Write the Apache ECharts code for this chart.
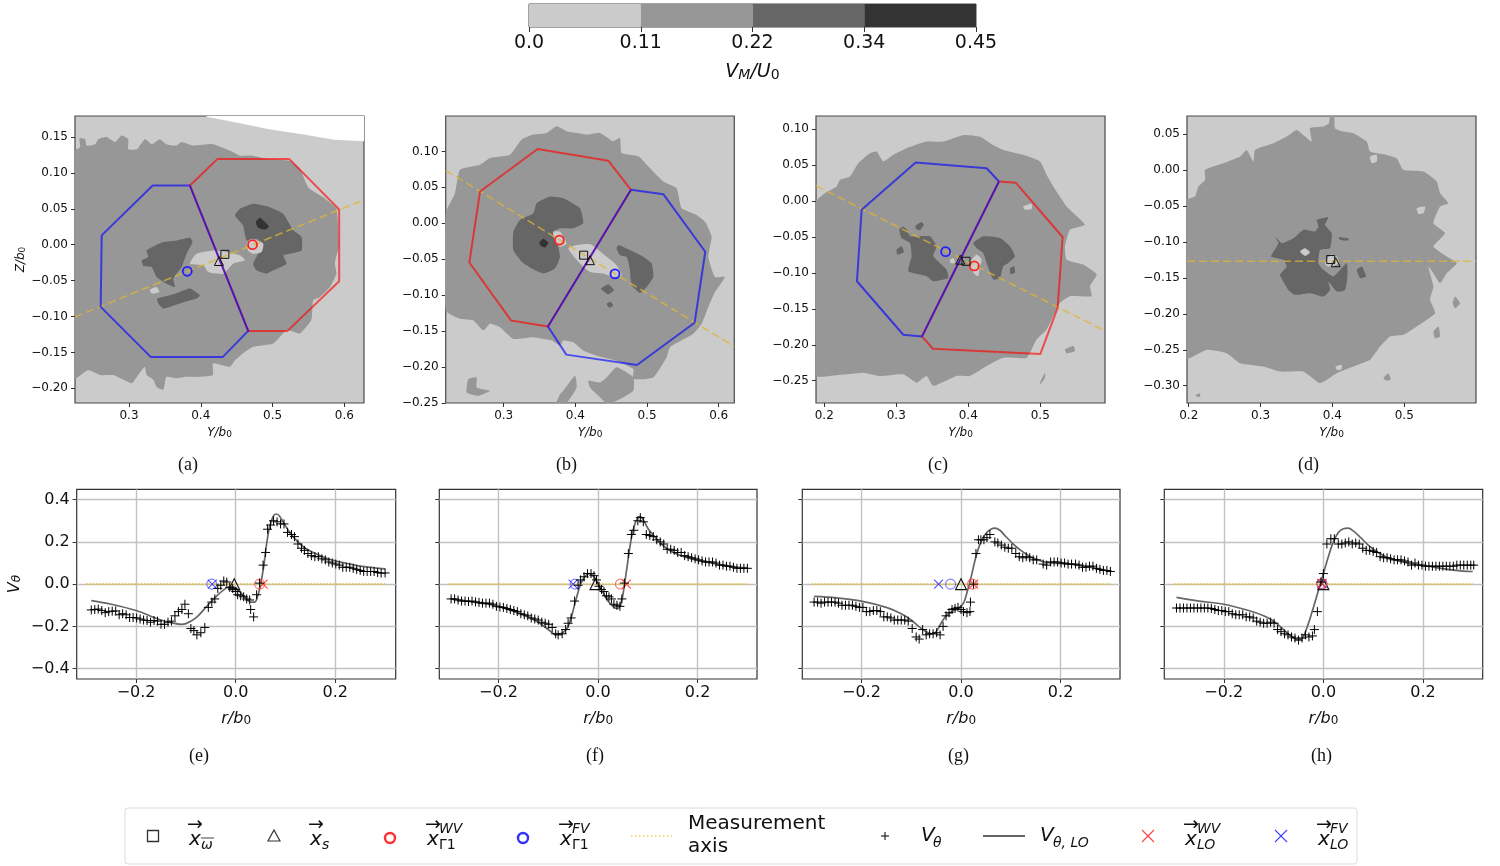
<!DOCTYPE html>
<html><head><meta charset="utf-8">
<style>html,body{margin:0;padding:0;background:#fff}#c{width:1500px;height:866px}</style>
<script src="https://cdn.jsdelivr.net/npm/echarts@6/dist/echarts.min.js"></script>
</head><body><div id="c"></div>
<script>
// ---------- colour-bar ----------
const barEdges=[0,0.1125,0.225,0.3375,0.45];
const barLabels=['0.0','0.11','0.22','0.34','0.45'];
const barColors=['#cbcbcb','#979797','#666666','#333333'];
// ---------- panel (a) ----------
const aWhite=[[.408,.1792],[.408,.178],[.446,.171],[.493,.161],[.539,.154],[.586,.146],[.6274,.144],[.6274,.1792]];
const aMid=[[[.2248,.131],[.232,.1357],[.2309,.148],[.2388,.147],[.241,.138],[.2527,.14],[.2573,.147],[.2689,.15],[.2805,.143],[.2898,.152],[.299,.147],[.299,.133],[.311,.133],[.322,.147],[.3316,.14],[.343,.147],[.352,.14],[.366,.138],[.373,.143],[.3896,.138],[.417,.14],[.4406,.131],[.4545,.124],[.473,.124],[.4916,.1195],[.524,.117],[.538,.1056],[.5496,.08],[.5705,.066],[.589,.05],[.592,-.003],[.5868,-.026],[.589,-.04],[.58,-.059],[.566,-.073],[.5566,-.077],[.554,-.105],[.538,-.1236],[.5195,-.119],[.501,-.1375],[.473,-.142],[.459,-.151],[.4476,-.161],[.4406,-.17],[.417,-.165],[.417,-.1815],[.399,-.184],[.38,-.184],[.366,-.186],[.352,-.184],[.348,-.202],[.3385,-.198],[.334,-.188],[.3246,-.1815],[.322,-.17],[.311,-.184],[.304,-.193],[.278,-.1815],[.26,-.1815],[.243,-.1745],[.2248,-.186]]];
const aDark=[[[.4476,.0407],[.4545,.05],[.473,.057],[.4963,.0523],[.5148,.043],[.5288,.02],[.5404,.0106],[.5404,-.0079],[.524,-.0125],[.5148,-.0148],[.5195,-.0264],[.501,-.0357],[.4916,-.0403],[.4777,-.0357],[.473,-.0264],[.4824,-.0079],[.487,.0014],[.4777,.0083],[.4638,.006],[.459,.0269]],
[[.3246,-.0079],[.3478,.0037],[.3664,.006],[.385,.0097],[.3886,.0037],[.3803,-.0125],[.3733,-.031],[.3617,-.0472],[.364,-.0588],[.3524,-.0542],[.3385,-.0449],[.3316,-.031],[.32,-.0296],[.3176,-.0218],[.3269,-.0171]],
[[.3394,-.075],[.3571,-.0704],[.371,-.0657],[.3849,-.0611],[.3988,-.0704],[.3942,-.075],[.378,-.0796],[.364,-.0843],[.3478,-.0889],[.3408,-.082]]];
const aDarkest=[[[.4768,.0315],[.4824,.0375],[.4893,.0315],[.495,.0255],[.4893,.021],[.48,.0236]]];
const aLight=[[[.385,-.0264],[.3942,-.0125],[.4174,-.0079],[.436,-.0102],[.4545,-.0148],[.4615,-.0218],[.4453,-.0264],[.4313,-.0403],[.4104,-.038],[.4035,-.0287]],
[[.4638,.0014],[.4708,.0083],[.487,.0014],[.4847,-.0102],[.473,-.0125],[.466,-.0079]],
[[.3292,-.0625],[.3385,-.0588],[.3422,-.0657],[.3316,-.068]]];
const aRed=[[.3849,.0824],[.4234,.1195],[.5232,.1195],[.5928,.0491],[.5928,-.0509],[.5209,-.12],[.4661,-.12],[.3849,.0824]];
const aBlue=[[.3849,.0824],[.333,.0824],[.262,.013],[.2606,-.0866],[.3306,-.1565],[.4304,-.1565],[.4661,-.12],[.3849,.0824]];
const aAxis=[[.2248,-.1005],[.6274,.0625]];
const aMarks={red:[.4721,0],blue:[.3812,-.037],square:[.4336,-.0134],tri:[.4253,-.0227]};
// ---------- panel (b) ----------
const bMid=[[[.2191,.014],[.2321,.0419],[.2391,.0746],[.267,.0816],[.2809,.0909],[.3088,.0955],[.3251,.1165],[.3414,.1235],[.36,.1258],[.3739,.1351],[.3879,.1282],[.4018,.1258],[.4181,.1235],[.4344,.1258],[.453,.1142],[.4623,.1188],[.4646,.0979],[.4879,.0932],[.4995,.0816],[.5227,.0583],[.5413,.0489],[.5483,.021],[.5692,.0117],[.5809,.0023],[.5902,-.0186],[.5855,-.0466],[.5948,-.0746],[.6088,-.0746],[.5948,-.0955],[.5855,-.1165],[.5762,-.1398],[.5646,-.1538],[.532,-.1724],[.5274,-.1864],[.5088,-.2144],[.4809,-.2167],[.4809,-.2027],[.4576,-.1911],[.4297,-.1841],[.4111,-.1771],[.3972,-.1654],[.3832,-.1631],[.3786,-.1701],[.367,-.1631],[.3414,-.1584],[.3135,-.1608],[.2949,-.1445],[.2809,-.1398],[.2716,-.1491],[.2577,-.1351],[.2391,-.1328],[.2191,-.1212]],
[[.4181,-.219],[.4344,-.2214],[.4437,-.2144],[.4576,-.2004],[.4809,-.2144],[.4809,-.233],[.4576,-.247],[.4437,-.25],[.43,-.2377],[.4204,-.2283]],
[[.3832,-.233],[.3995,-.212],[.4018,-.2283],[.3879,-.2493],[.3739,-.2493],[.3786,-.2377]],
[[.2507,-.2167],[.2623,-.2144],[.2623,-.2283],[.2809,-.233],[.2646,-.24],[.2484,-.2353]]];
const bDark=[[[.3135,-.0117],[.3228,.0047],[.3414,.014],[.346,.028],[.3646,.0373],[.3832,.035],[.4065,.021],[.4111,0],[.3972,-.007],[.3786,-.007],[.3693,-.0117],[.3739,-.0233],[.3786,-.0466],[.3716,-.0629],[.3553,-.0699],[.3391,-.0629],[.3251,-.0536],[.3135,-.0373]],
[[.4576,-.035],[.46,-.0303],[.4762,-.0373],[.4948,-.0466],[.5065,-.0559],[.5088,-.0746],[.4995,-.0885],[.4902,-.0969],[.4785,-.0862],[.4762,-.0652],[.4716,-.0466],[.4623,-.0443]],
[[.4358,-.0909],[.446,-.0848],[.4539,-.0932],[.446,-.0988]],
[[.4437,-.1118],[.4493,-.109],[.453,-.1142],[.4474,-.1174]]];
const bDarkest=[[[.3498,-.027],[.3553,-.0214],[.3623,-.027],[.3577,-.0336],[.3516,-.0312]]];
const bLight=[[[.3902,-.035],[.4018,-.0303],[.4204,-.0289],[.4297,-.035],[.4437,-.0466],[.4576,-.0582],[.4646,-.0722],[.453,-.0746],[.439,-.0699],[.4204,-.0676],[.4065,-.0559]],
[[.3693,-.0117],[.3786,-.0117],[.3879,-.028],[.3786,-.0326],[.3716,-.0256]]];
const bRed=[[.4776,.0466],[.446,.0871],[.3474,.1034],[.267,.0443],[.2521,-.0545],[.3102,-.1351],[.3618,-.1435],[.4776,.0466]];
const bBlue=[[.4776,.0466],[.5227,.0405],[.5813,-.0396],[.5664,-.1384],[.486,-.1971],[.3874,-.1827],[.3618,-.1435],[.4776,.0466]];
const bAxis=[[.2191,.0736],[.6218,-.1715]];
const bMarks={red:[.3777,-.0233],blue:[.4553,-.0704],square:[.4116,-.0443],tri:[.4204,-.0513]};
// ---------- panel (c) ----------
const cMid=[[[.1885,-.0005],[.2009,.0111],[.2171,.0204],[.2218,.0296],[.2357,.0343],[.2472,.0528],[.2634,.0667],[.2727,.069],[.282,.0551],[.2958,.0644],[.3144,.0736],[.3421,.0829],[.3653,.0829],[.3931,.0921],[.4162,.0898],[.4301,.0806],[.4486,.0713],[.4764,.0644],[.4996,.0551],[.5088,.0366],[.5181,.0204],[.5366,-.0074],[.5621,-.0329],[.5412,-.0398],[.5343,-.063],[.5366,-.0815],[.5598,-.0884],[.5783,-.1023],[.569,-.1185],[.5713,-.1324],[.5412,-.1324],[.5273,-.1417],[.5204,-.1556],[.5088,-.1787],[.4949,-.1926],[.481,-.2181],[.4486,-.2181],[.4255,-.2296],[.4023,-.2435],[.3838,-.2435],[.3514,-.2574],[.3421,-.2435],[.3283,-.2528],[.3097,-.2412],[.2773,-.2435],[.2542,-.2389],[.231,-.2412],[.2079,-.2435],[.1885,-.2435]],
[[.5343,-.2065],[.5459,-.2019],[.5482,-.2088],[.5366,-.2121]],
[[.4996,-.2528],[.5065,-.2389],[.5065,-.2458],[.5,-.2551]]];
const cDark=[[[.3042,-.0398],[.3097,-.0352],[.3167,-.0421],[.319,-.0491],[.3468,-.0491],[.356,-.063],[.3514,-.0769],[.3699,-.0954],[.3722,-.107],[.3514,-.1116],[.3421,-.1046],[.3167,-.0977],[.3213,-.0769],[.319,-.0583],[.3074,-.0514]],
[[.3269,-.0343],[.3352,-.0292],[.3384,-.0329],[.3329,-.0407],[.3273,-.0389]],
[[.3005,-.0676],[.3074,-.063],[.3106,-.0713],[.3014,-.0745]],
[[.407,-.0583],[.4208,-.0491],[.444,-.0514],[.4579,-.063],[.4648,-.0769],[.4556,-.0861],[.4486,-.0907],[.444,-.107],[.4347,-.1093],[.4255,-.0861],[.4208,-.0722],[.4116,-.0653]],
[[.4579,-.0935],[.4639,-.0907],[.4648,-.0995],[.4588,-.1018]]];
const cLight=[[[.3745,-.0815],[.3792,-.0792],[.3815,-.0861],[.3755,-.0861]],
[[.4023,-.0861],[.4116,-.0745],[.4185,-.0815],[.4162,-.0907],[.4139,-.1046],[.4093,-.1023],[.4047,-.0954]],
[[.4764,-.0074],[.488,-.0037],[.488,-.0111],[.4787,-.012]]];
const cBlue=[[.4426,.0273],[.4255,.0458],[.3269,.0537],[.2519,-.012],[.2454,-.1116],[.3097,-.1861],[.3357,-.1884],[.4426,.0273]];
const cRed=[[.4426,.0273],[.4662,.0255],[.531,-.05],[.5241,-.1486],[.5,-.213],[.3509,-.2056],[.3357,-.1884],[.4426,.0273]];
const cAxis=[[.1885,.0213],[.5899,-.1806]];
const cMarks={red:[.4084,-.0903],blue:[.3685,-.0704],square:[.3968,-.0838],tri:[.3889,-.0815]};
// ---------- panel (d) ----------
const dMid=[[[.1976,-.0413],[.2088,-.0367],[.2135,-.0227],[.2227,-.0135],[.2227,.0005],[.2483,.0097],[.2715,.019],[.2807,.0283],[.29,.0121],[.2923,.0283],[.3179,.0376],[.3364,.0469],[.3503,.0561],[.3619,.0469],[.3712,.0399],[.3689,.0585],[.3875,.0608],[.3953,.0654],[.3967,.0755],[.4023,.0755],[.4037,.0585],[.4153,.0538],[.4292,.0515],[.4478,.0399],[.4524,.026],[.4756,.0213],[.4895,.0167],[.4988,.0005],[.5267,-.0019],[.5452,-.0158],[.5499,-.032],[.5615,-.0459],[.5499,-.0506],[.5406,-.0738],[.5568,-.0877],[.5406,-.1063],[.5591,-.1202],[.5731,-.1295],[.5591,-.1434],[.5499,-.1573],[.5406,-.1434],[.5336,-.1341],[.5406,-.1619],[.5359,-.1805],[.5429,-.1991],[.5174,-.2176],[.4988,-.2292],[.4803,-.2315],[.4663,-.2455],[.4524,-.264],[.4292,-.2733],[.406,-.2826],[.3828,-.2965],[.3596,-.2803],[.3271,-.2803],[.3039,-.2733],[.2715,-.2687],[.2529,-.2547],[.2251,-.2501],[.1976,-.2617]],
[[.5707,-.1759],[.5777,-.1851],[.5707,-.1921],[.5675,-.1851]],
[[.5406,-.2246],[.5476,-.2176],[.5499,-.2315],[.5429,-.2339]],
[[.471,-.2895],[.4779,-.2826],[.4812,-.2918],[.4747,-.2928]],
[[.2102,-.3127],[.2158,-.3104],[.2158,-.3151],[.2102,-.3151]]];
const dDark=[[[.3146,-.1202],[.3248,-.1016],[.3202,-.0923],[.3295,-.1016],[.3457,-.0947],[.3596,-.0831],[.3759,-.0854],[.3805,-.0784],[.3782,-.0691],[.3944,-.0654],[.3898,-.0761],[.3991,-.0877],[.3967,-.1086],[.3828,-.1109],[.3805,-.1295],[.3875,-.1387],[.4014,-.148],[.4199,-.1295],[.4209,-.148],[.4176,-.1666],[.406,-.1689],[.3944,-.155],[.3967,-.1666],[.3875,-.1759],[.3689,-.1712],[.348,-.1735],[.3387,-.1666],[.3271,-.1457],[.3364,-.1341],[.3318,-.1248]],
[[.4339,-.1387],[.4409,-.1341],[.4469,-.148],[.4385,-.1503]],
[[.4083,-.0933],[.4223,-.0947],[.4223,-.0979],[.4107,-.097]]];
const dLight=[[[.355,-.1132],[.3619,-.1086],[.3689,-.1146],[.3619,-.1192]],
[[.3898,-.1295],[.3968,-.1179],[.406,-.1202],[.4083,-.1295],[.3991,-.1341],[.3921,-.1332]],
[[.4524,.019],[.4617,.0213],[.4617,.0121],[.4547,.0097]],
[[.5174,-.0529],[.529,-.0506],[.5267,-.0599],[.5197,-.0608]],
[[.2459,-.2733],[.2575,-.271],[.2585,-.277],[.2473,-.2779]],
[[.4046,-.2733],[.413,-.271],[.413,-.277],[.406,-.2779]]];
const dAxis=[[.1976,-.1267],[.5999,-.1267]];
const dMarks={square:[.3977,-.1244],tri:[.4046,-.1281]};
// ---------- lower panels: V_theta measured ----------
const ePlus=[[-.29,-.122],[-.283,-.12],[-.276,-.118],[-.269,-.125],[-.262,-.135],[-.255,-.13],[-.248,-.128],[-.241,-.127],[-.234,-.145],[-.227,-.14],[-.22,-.145],[-.213,-.158],[-.206,-.158],[-.199,-.16],[-.192,-.165],[-.185,-.17],[-.178,-.172],[-.171,-.18],[-.164,-.172],[-.157,-.175],[-.15,-.19],[-.143,-.19],[-.136,-.18],[-.129,-.175],[-.122,-.15],[-.115,-.13],[-.108,-.12],[-.102,-.095],[-.095,-.14],[-.09,-.21],[-.084,-.22],[-.078,-.24],[-.07,-.23],[-.062,-.205],[-.055,-.11],[-.048,-.085],[-.042,-.07],[-.036,-.02],[-.03,-.005],[-.024,.015],[-.018,.01],[-.012,-.015],[-.006,-.02],[0,-.035],[.004,-.05],[.01,-.055],[.016,-.06],[.022,-.07],[.028,-.075],[.03,-.12],[.036,-.155],[.042,-.05],[.048,.005],[.055,.09],[.06,.15],[.064,.26],[.07,.28],[.076,.3],[.083,.295],[.09,.285],[.097,.285],[.104,.245],[.112,.235],[.118,.225],[.125,.19],[.132,.17],[.138,.16],[.145,.145],[.152,.135],[.159,.13],[.166,.13],[.173,.12],[.18,.115],[.187,.105],[.194,.1],[.201,.095],[.208,.09],[.215,.08],[.222,.08],[.229,.08],[.236,.075],[.243,.07],[.25,.065],[.257,.06],[.264,.06],[.271,.06],[.278,.06],[.285,.055],[.292,.052],[.3,.053]];
const fPlus=[[-.295,-.07],[-.288,-.07],[-.281,-.075],[-.274,-.08],[-.267,-.08],[-.26,-.082],[-.253,-.08],[-.246,-.084],[-.239,-.086],[-.232,-.09],[-.225,-.09],[-.218,-.09],[-.211,-.095],[-.204,-.105],[-.197,-.108],[-.19,-.11],[-.183,-.115],[-.176,-.12],[-.169,-.125],[-.162,-.13],[-.155,-.14],[-.148,-.145],[-.141,-.15],[-.134,-.16],[-.127,-.165],[-.12,-.17],[-.113,-.18],[-.106,-.185],[-.099,-.19],[-.092,-.205],[-.085,-.235],[-.08,-.24],[-.072,-.235],[-.065,-.215],[-.06,-.185],[-.054,-.16],[-.047,-.08],[-.04,-.005],[-.035,.02],[-.028,.035],[-.021,.05],[-.014,.05],[-.008,.04],[-.003,.02],[.002,-.01],[.007,-.025],[.012,-.035],[.017,-.055],[.022,-.06],[.027,-.07],[.032,-.095],[.038,-.1],[.044,-.105],[.048,-.07],[.053,.005],[.061,.145],[.067,.235],[.072,.255],[.08,.3],[.085,.315],[.091,.295],[.097,.235],[.104,.23],[.111,.225],[.118,.21],[.125,.2],[.132,.19],[.139,.165],[.146,.165],[.153,.16],[.16,.15],[.167,.15],[.174,.135],[.181,.13],[.188,.125],[.195,.12],[.202,.115],[.209,.11],[.216,.105],[.223,.105],[.23,.105],[.237,.1],[.244,.09],[.251,.09],[.258,.085],[.265,.085],[.272,.08],[.279,.075],[.286,.075],[.293,.075],[.3,.075]];
const gPlus=[[-.295,-.085],[-.288,-.085],[-.281,-.09],[-.274,-.085],[-.267,-.085],[-.26,-.085],[-.253,-.085],[-.246,-.09],[-.239,-.1],[-.232,-.1],[-.225,-.1],[-.218,-.1],[-.211,-.105],[-.204,-.11],[-.197,-.11],[-.19,-.13],[-.183,-.13],[-.176,-.125],[-.169,-.125],[-.162,-.13],[-.155,-.155],[-.148,-.155],[-.141,-.16],[-.134,-.17],[-.127,-.17],[-.12,-.17],[-.113,-.17],[-.106,-.175],[-.098,-.21],[-.09,-.25],[-.084,-.26],[-.077,-.215],[-.07,-.24],[-.063,-.235],[-.056,-.235],[-.049,-.23],[-.042,-.24],[-.036,-.2],[-.03,-.15],[-.024,-.135],[-.018,-.12],[-.012,-.115],[-.006,-.11],[0,-.12],[.005,-.13],[.012,-.135],[.018,-.13],[.019,-.085],[.025,0],[.03,.145],[.035,.21],[.04,.21],[.046,.21],[.052,.22],[.058,.235],[.068,.2],[.074,.195],[.081,.185],[.088,.175],[.095,.17],[.102,.17],[.11,.145],[.117,.13],[.124,.125],[.131,.13],[.138,.125],[.145,.115],[.152,.115],[.165,.095],[.172,.09],[.18,.105],[.187,.105],[.194,.105],[.201,.1],[.208,.1],[.215,.095],[.222,.095],[.23,.095],[.237,.09],[.244,.08],[.251,.08],[.258,.085],[.265,.085],[.272,.075],[.279,.07],[.286,.065],[.293,.065],[.3,.06]];
const hPlus=[[-.295,-.113],[-.288,-.113],[-.281,-.113],[-.274,-.113],[-.267,-.113],[-.26,-.113],[-.253,-.113],[-.246,-.113],[-.239,-.113],[-.232,-.113],[-.225,-.115],[-.218,-.12],[-.211,-.125],[-.204,-.125],[-.197,-.13],[-.19,-.13],[-.183,-.14],[-.176,-.145],[-.169,-.145],[-.162,-.145],[-.155,-.155],[-.148,-.155],[-.141,-.16],[-.134,-.175],[-.127,-.18],[-.12,-.185],[-.113,-.185],[-.106,-.18],[-.099,-.185],[-.092,-.215],[-.085,-.225],[-.078,-.235],[-.071,-.24],[-.064,-.25],[-.057,-.255],[-.05,-.265],[-.043,-.255],[-.036,-.24],[-.029,-.25],[-.022,-.245],[-.018,-.215],[-.012,-.13],[-.005,.01],[0,.05],[.007,.19],[.015,.215],[.022,.215],[.03,.19],[.037,.19],[.044,.195],[.051,.2],[.058,.19],[.065,.195],[.072,.19],[.079,.17],[.086,.16],[.093,.16],[.1,.155],[.107,.15],[.114,.13],[.121,.125],[.128,.125],[.135,.12],[.142,.115],[.149,.115],[.156,.115],[.163,.11],[.17,.105],[.177,.09],[.184,.1],[.191,.09],[.198,.09],[.205,.085],[.212,.085],[.219,.085],[.226,.085],[.233,.085],[.24,.085],[.247,.085],[.254,.085],[.261,.085],[.268,.09],[.275,.09],[.282,.09],[.289,.09],[.296,.09],[.302,.09]];
// ---------- lower panels: V_theta,LO ----------
const eLO=[[-.29,-.078],[-.25,-.095],[-.2,-.125],[-.15,-.17],[-.13,-.182],[-.11,-.19],[-.1,-.187],[-.08,-.16],[-.06,-.11],[-.04,-.06],[-.02,-.02],[-.01,-.012],[0,-.018],[.01,-.04],[.02,-.065],[.03,-.085],[.038,-.085],[.045,-.05],[.05,0],[.056,.08],[.062,.19],[.068,.27],[.075,.32],[.081,.332],[.087,.325],[.095,.295],[.11,.24],[.125,.2],[.14,.17],[.16,.145],[.18,.125],[.2,.11],[.22,.1],[.25,.085],[.28,.077],[.3,.072]];
const fLO=[[-.295,-.07],[-.25,-.085],[-.2,-.105],[-.15,-.145],[-.12,-.18],[-.1,-.215],[-.085,-.238],[-.075,-.235],[-.06,-.2],[-.045,-.08],[-.035,0],[-.025,.04],[-.018,.05],[-.01,.04],[0,0],[.01,-.04],[.02,-.08],[.03,-.105],[.037,-.115],[.043,-.11],[.05,-.05],[.057,.06],[.065,.19],[.072,.27],[.08,.315],[.085,.32],[.092,.3],[.1,.265],[.11,.235],[.125,.195],[.14,.165],[.16,.14],[.18,.125],[.2,.112],[.22,.103],[.25,.09],[.28,.08],[.3,.077]];
const gLO=[[-.295,-.058],[-.25,-.065],[-.2,-.08],[-.15,-.11],[-.12,-.14],[-.1,-.17],[-.085,-.2],[-.07,-.225],[-.058,-.235],[-.05,-.225],[-.04,-.185],[-.03,-.15],[-.015,-.125],[-.005,-.115],[.005,-.09],[.012,-.04],[.02,.03],[.03,.13],[.04,.2],[.05,.24],[.06,.26],[.068,.265],[.078,.255],[.09,.225],[.105,.19],[.12,.16],[.14,.13],[.16,.11],[.18,.1],[.2,.098],[.22,.095],[.25,.085],[.28,.07],[.3,.06]];
const hLO=[[-.295,-.063],[-.25,-.08],[-.2,-.095],[-.15,-.125],[-.12,-.15],[-.1,-.175],[-.08,-.215],[-.065,-.245],[-.052,-.262],[-.042,-.255],[-.032,-.2],[-.02,-.11],[-.01,-.03],[0,.05],[.01,.13],[.02,.2],[.03,.245],[.04,.262],[.05,.265],[.06,.252],[.075,.22],[.09,.185],[.11,.15],[.13,.125],[.15,.11],[.18,.095],[.21,.085],[.25,.07],[.28,.062],[.3,.06]];
// ---------- lower panels: marker x-positions on the measurement axis ----------
const measAxis=[[-.3,0],[.3,0]];
const eMarks={tri:[-.003,0],blueC:[-.048,0],blueX:[-.047,0],redC:[.048,0],redX:[.055,0]};
const fMarks={tri:[-.005,0],blueC:[-.046,0],blueX:[-.05,0],redC:[.045,0],redX:[.057,0]};
const gMarks={tri:[0,0],blueC:[-.021,0],blueX:[-.045,0],redC:[.023,0],redX:[.025,0]};
const hMarks={tri:[0,0],blueC:[-.003,.002],blueX:[-.003,.003],redC:[-.003,.003],redX:[-.003,.003]};
// ---------- tick labels ----------
const ticksXa=[.3,.4,.5,.6], ticksYa=[-.2,-.15,-.1,-.05,0,.05,.1,.15];
const ticksXb=[.3,.4,.5,.6], ticksYb=[-.25,-.2,-.15,-.1,-.05,0,.05,.1];
const ticksXc=[.2,.3,.4,.5], ticksYc=[-.25,-.2,-.15,-.1,-.05,0,.05,.1];
const ticksXd=[.2,.3,.4,.5], ticksYd=[-.3,-.25,-.2,-.15,-.1,-.05,0,.05];
const ticksXlow=[-.2,0,.2], ticksYlow=[-.4,-.2,0,.2,.4];
const captions=['(a)','(b)','(c)','(d)','(e)','(f)','(g)','(h)'];

const F='"DejaVu Sans"';
const RED='rgba(255,0,0,.62)', BLUE='rgba(0,0,255,.62)', GOLD='rgba(222,182,50,.75)';
const MC='#979797',DC='#666666',DDC='#333333',LC='#cbcbcb';
const XSYM='path://M0 0L10 10M10 0L0 10', PSYM='path://M5 0V10M0 5H10';
const fmtNum=d=>v=>v.toFixed(d).replace('-','\u2212');

const grids=[],xAxes=[],yAxes=[],series=[];
function polys(g,list,color,smooth){
  series.push({type:'custom',xAxisIndex:g,yAxisIndex:g,coordinateSystem:'cartesian2d',clip:true,silent:true,
    data:list.map((p,i)=>[p[0][0],p[0][1],i]),encode:{x:0,y:1},animation:false,
    renderItem:(ps,api)=>({type:'polygon',shape:{points:list[api.value(2)].map(q=>api.coord(q)),smooth:smooth||0},style:{fill:color}})});
}
function line(g,data,color,w,type,smooth,z){
  series.push({type:'line',xAxisIndex:g,yAxisIndex:g,data,showSymbol:false,symbol:'none',silent:true,animation:false,smooth:smooth||false,z:z||2,
    lineStyle:{color,width:w,type:type||'solid'}});
}
function mark(g,pts,symbol,size,stroke,bw,z){
  series.push({type:'scatter',xAxisIndex:g,yAxisIndex:g,data:pts,symbol,symbolSize:size,silent:true,animation:false,z:z||4,
    itemStyle:{color:'rgba(0,0,0,0)',borderColor:stroke,borderWidth:bw,opacity:1}});
}
const nameRich=(fs)=>({i:{fontFamily:F,fontStyle:'italic',fontSize:fs,verticalAlign:'bottom',color:'#111'},s:{fontFamily:F,fontSize:Math.round(fs*.72),verticalAlign:'bottom',padding:[Math.round(fs*.4),0,0,0],color:'#111'},si:{fontFamily:F,fontStyle:'italic',fontSize:Math.round(fs*.72),verticalAlign:'bottom',padding:[Math.round(fs*.4),0,0,0],color:'#111'}});
function addGrid(box,xr,yr,xt,yt,opt){
  const i=grids.length;
  grids.push({left:box[0],top:box[1],width:box[2]-box[0],height:box[3]-box[1],show:true,containLabel:false,borderColor:opt.bc||'#4a4a4a',borderWidth:1.2,backgroundColor:opt.bg||'transparent'});
  const fs=opt.fs, sl=opt.split?{show:true,lineStyle:{color:'#c2c2c2',width:1.4}}:{show:false};
  xAxes.push({type:'value',gridIndex:i,min:xr[0],max:xr[1],scale:true,
    axisLine:{show:false,onZero:false},axisTick:{show:true,length:4,lineStyle:{color:'#333',width:1},customValues:xt},
    axisLabel:{show:true,customValues:xt,formatter:fmtNum(opt.xd),fontFamily:F,fontSize:fs,color:'#111',margin:opt.xm||7},splitLine:sl,
    name:opt.xname,nameLocation:'middle',nameGap:opt.xgap,nameTextStyle:{rich:nameRich(opt.nfs)}});
  yAxes.push({type:'value',gridIndex:i,min:yr[0],max:yr[1],scale:true,
    axisLine:{show:false,onZero:false},axisTick:{show:true,length:4,lineStyle:{color:'#333',width:1},customValues:yt},
    axisLabel:{show:opt.ylabels!==false,customValues:yt,formatter:fmtNum(opt.yd),fontFamily:F,fontSize:fs,color:'#111',margin:7},splitLine:sl,
    name:opt.yname||'',nameLocation:'middle',nameGap:opt.ygap||30,nameTextStyle:{rich:nameRich(opt.nfs)}});
  return i;
}
// upper panels
const xn='{i|Y/b}{s|0}';
function upper(box,xr,yr,xt,yt,d,yname){
  const g=addGrid(box,xr,yr,xt,yt,{bg:LC,fs:12,xd:1,yd:2,xname:xn,xgap:22,nfs:12,yname,ygap:41});
  if(d.white) polys(g,[d.white],'#ffffff');
  polys(g,d.mid,MC,.15);
  polys(g,d.dark,DC,.15);
  if(d.darkest) polys(g,d.darkest,DDC,.2);
  polys(g,d.light,LC,.2);
  line(g,d.axis,GOLD,1.6,[8,4],false,3);
  if(d.red) line(g,d.red,RED,2,'solid',false,3);
  if(d.blue) line(g,d.blue,BLUE,2,'solid',false,3);
  if(d.m.red) mark(g,[d.m.red],'circle',9,'#ff2020',1.8);
  if(d.m.blue) mark(g,[d.m.blue],'circle',9,'#2020ff',1.8);
  mark(g,[d.m.square],'rect',8,'#111',1);
  mark(g,[d.m.tri],'triangle',9,'#111',1);
}
upper([75,116,364,403],[.2248,.6274],[-.2204,.1792],ticksXa,ticksYa,{white:aWhite,mid:aMid,dark:aDark,darkest:aDarkest,light:aLight,axis:aAxis,red:aRed,blue:aBlue,m:aMarks},'{i|Z/b}{s|0}');
upper([445.7,116,734.3,403],[.2191,.6218],[-.25,.1493],ticksXb,ticksYb,{mid:bMid,dark:bDark,darkest:bDarkest,light:bLight,axis:bAxis,red:bRed,blue:bBlue,m:bMarks});
upper([816,116,1105,403],[.1885,.5899],[-.2811,.1185],ticksXc,ticksYc,{mid:cMid,dark:cDark,light:cLight,axis:cAxis,red:cRed,blue:cBlue,m:cMarks});
upper([1187,116,1476,403],[.1976,.5999],[-.3241,.0755],ticksXd,ticksYd,{mid:dMid,dark:dDark,light:dLight,axis:dAxis,m:dMarks});
// lower panels
function lower(box,xr,plus,lo,m,first){
  const g=addGrid(box,xr,[-.449,.449],ticksXlow,ticksYlow,{split:true,fs:16,xd:1,yd:1,xname:'{i|r/b}{s|0}',xgap:30,nfs:16,ylabels:first,yname:first?'{i|V}{si|θ}':'',ygap:54,xm:6,bc:'#333'});
  line(g,lo,'#666666',1.7,'solid',.35,3);
  line(g,measAxis,'rgba(232,190,50,.95)',1.8,[1.6,1.6],false,3);
  mark(g,plus,PSYM,9,'#000',1,5);
  mark(g,[m.tri],'triangle',11,'#111',1.1,4);
  mark(g,[m.blueC],'circle',10,'rgba(60,60,255,.65)',1.1);
  mark(g,[m.blueX],XSYM,9,'rgba(40,40,255,.8)',1.1);
  mark(g,[m.redC],'circle',10,'rgba(255,50,50,.65)',1.1);
  mark(g,[m.redX],XSYM,9,'rgba(255,40,40,.85)',1.1);
}
lower([76.7,489.3,395.7,679],[-.3193,.3213],ePlus,eLO,eMarks,true);
lower([439.3,489.3,757,679],[-.3187,.3193],fPlus,fLO,fMarks,false);
lower([802.3,489.3,1120,679],[-.3187,.3193],gPlus,gLO,gMarks,false);
lower([1164.3,489.3,1482.7,679],[-.3195,.32],hPlus,hLO,hMarks,false);
// colour-bar
(function(){
  const i=grids.length;
  grids.push({left:529,top:4,width:447,height:23,show:true,borderColor:'#444',borderWidth:1,containLabel:false});
  xAxes.push({type:'value',gridIndex:i,min:0,max:.45,interval:.1125,axisLine:{show:false,onZero:false},axisTick:{show:true,length:5,lineStyle:{color:'#333'}},splitLine:{show:false},
    axisLabel:{fontFamily:F,fontSize:19,color:'#111',margin:7,showMinLabel:true,showMaxLabel:true,formatter:v=>barLabels[Math.round(v/.1125)]},
    name:'{i|V}{si|M}{i|/U}{s|0}',nameLocation:'middle',nameGap:33,nameTextStyle:{rich:nameRich(19)}});
  yAxes.push({type:'value',gridIndex:i,min:0,max:1,show:false});
  series.push({type:'custom',xAxisIndex:i,yAxisIndex:i,silent:true,animation:false,
    data:barColors.map((c,k)=>[barEdges[k],barEdges[k+1],k]),encode:{x:[0,1]},
    renderItem:(ps,api)=>{const a=api.coord([api.value(0),0]),b=api.coord([api.value(1),1]);
      return {type:'rect',shape:{x:a[0],y:b[1],width:b[0]-a[0],height:a[1]-b[1]},style:{fill:barColors[api.value(2)]}};}});
})();
// captions + legend drawn with real text
const g=[];
const capPos=[[189,467],[567,467],[939,467],[1309,467],[200,758],[597,758],[959,758],[1322,758]];
captions.forEach((t,i)=>g.push({type:'text',left:capPos[i][0]-11,top:capPos[i][1]-11,z:10,style:{text:t,font:'18px "Liberation Serif"',fill:'#111'}}));
function T(t,x,y,font,fill){g.push({type:'text',x,y,z:11,style:{text:t,x:0,y:0,font,fill:fill||'#111',align:'left',verticalAlign:'middle'}});}
const I=s=>'italic '+s+'px '+F, N=s=>s+'px '+F;
function vec(x,y,sub,sup,subItalic){
  T('x',x,y+4,I(20));
  T('\u2192',x-2,y-11,N(19));
  if(sub) T(sub,x+12,y+9,subItalic?I(14):N(14));
  if(sup) T(sup,x+12,y-7,I(14));
}
g.push({type:'rect',z:9,shape:{x:125,y:808,width:1232,height:56,r:3},style:{fill:'#fff',stroke:'#dcdcdc',lineWidth:1}});
g.push({type:'rect',z:11,shape:{x:147.5,y:830.5,width:11,height:11},style:{fill:'none',stroke:'#333',lineWidth:1.3}});
vec(189,836,'ω',null,true);
g.push({type:'line',z:11,shape:{x1:201,y1:838,x2:214,y2:838},style:{stroke:'#111',lineWidth:.8}});
g.push({type:'polygon',z:11,shape:{points:[[274,830],[280,841],[268,841]]},style:{fill:'none',stroke:'#333',lineWidth:1.2}});
vec(310,836,'s',null,true);
g.push({type:'circle',z:11,shape:{cx:390,cy:838,r:5},style:{fill:'none',stroke:'#ff3030',lineWidth:2.4}});
vec(427,836,'\u03931','WV');
g.push({type:'circle',z:11,shape:{cx:523,cy:838,r:5},style:{fill:'none',stroke:'#3030ff',lineWidth:2.4}});
vec(560,836,'\u03931','FV');
g.push({type:'line',z:11,shape:{x1:631,y1:836,x2:672,y2:836},style:{stroke:'rgba(232,190,50,.8)',lineWidth:1.5,lineDash:[1.5,2.5]}});
T('Measurement',688,824,N(20));
T('axis',688,847,N(20));
g.push({type:'line',z:11,shape:{x1:881,y1:836,x2:889,y2:836},style:{stroke:'#000',lineWidth:1}});
g.push({type:'line',z:11,shape:{x1:885,y1:832,x2:885,y2:840},style:{stroke:'#000',lineWidth:1}});
T('V',921,836,I(20)); T('θ',933,843,I(14));
g.push({type:'line',z:11,shape:{x1:983,y1:836,x2:1025,y2:836},style:{stroke:'#666',lineWidth:2}});
T('V',1040,836,I(20)); T('θ, LO',1053,843,I(14));
function cross(cx,cy,c){[[-6,-6,6,6],[6,-6,-6,6]].forEach(q=>g.push({type:'line',z:11,shape:{x1:cx+q[0],y1:cy+q[1],x2:cx+q[2],y2:cy+q[3]},style:{stroke:c,lineWidth:1.1}}));}
cross(1148,836,'#ff4040');
vec(1185,836,'LO','WV',true);
cross(1281,836,'#4040ff');
vec(1318,836,'LO','FV',true);

const chart=echarts.init(document.getElementById('c'),null,{renderer:'canvas',width:1500,height:866});
chart.setOption({animation:false,backgroundColor:'#fff',tooltip:{show:false},grid:grids,xAxis:xAxes,yAxis:yAxes,series,graphic:{elements:g}});
</script></body></html>
